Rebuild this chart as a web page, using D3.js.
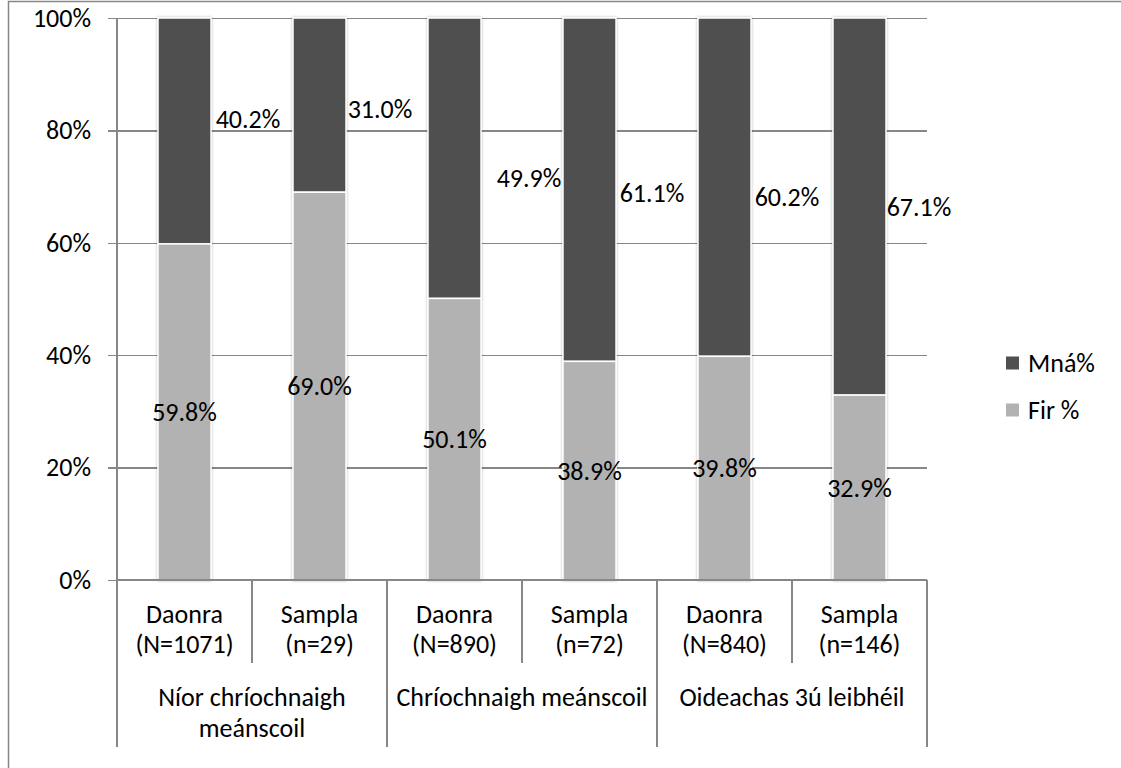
<!DOCTYPE html>
<html>
<head>
<meta charset="utf-8">
<script src="https://cdn.jsdelivr.net/npm/d3@7"></script>
<style>
  html, body { margin: 0; padding: 0; background: #fff; }
  svg text { font-family: Carlito, Calibri, Lato, "Open Sans", sans-serif; fill: #000; }
</style>
</head>
<body>
<svg id="chart" width="1121" height="768"></svg>
<script>
// ---- data ----
const bars = ["d1", "s1", "d2", "s2", "d3", "s3"];
const barLine1 = ["Daonra", "Sampla", "Daonra", "Sampla", "Daonra", "Sampla"];
const barLine2 = ["(N=1071)", "(n=29)", "(N=890)", "(n=72)", "(N=840)", "(n=146)"];
const groups = [["Níor chríochnaigh", "meánscoil"], ["Chríochnaigh meánscoil"], ["Oideachas 3ú leibhéil"]];
const firValues = [59.8, 69.0, 50.1, 38.9, 39.8, 32.9];
const mnaValues = [40.2, 31.0, 49.9, 61.1, 60.2, 67.1];
const seriesNames = ["Mná%", "Fir %"];
const yTicks = [0, 20, 40, 60, 80, 100];
// manual nudges of the Mná% data labels (as dragged in the original)
const mnaLabelDx = [-4, -7, 7, -5, -5, -8];
const mnaLabelDy = [-12, 4, 20, 3, 10, 0];

// ---- layout ----
const svg = d3.select("#chart");
const pLeft = 117, pRight = 927, pTop = 18, pBottom = 580;
const FONT = 26;
const cDark = "#505050", cLight = "#b2b2b2", cGrid = "#878787";

const x = d3.scaleBand().domain(bars).range([pLeft, pRight]).paddingInner(0.607).paddingOuter(0.3035);
const y = d3.scaleLinear().domain([0, 100]).range([pBottom, pTop]);
const step = x.step();

// outer border
svg.append("rect").attr("x", 8.5).attr("y", 1.5).attr("width", 1200).attr("height", 900)
  .attr("fill", "none").attr("stroke", cGrid).attr("stroke-width", 1.5);

// shadow filter
const defs = svg.append("defs");
const f = defs.append("filter").attr("id", "glow").attr("x", "-20%").attr("y", "-5%").attr("width", "140%").attr("height", "110%");
f.append("feGaussianBlur").attr("in", "SourceAlpha").attr("stdDeviation", 1.6).attr("result", "b");
f.append("feComponentTransfer").attr("in", "b").attr("result", "b2")
  .append("feFuncA").attr("type", "linear").attr("slope", 0.28);
const fm = f.append("feMerge");
fm.append("feMergeNode").attr("in", "b2");
fm.append("feMergeNode").attr("in", "SourceGraphic");

// gridlines + y-axis
const yAxis = d3.axisLeft(y).tickValues(yTicks).tickSize(pRight - pLeft + 9).tickPadding(17)
  .tickFormat(d => d + "%");
const gy = svg.append("g").attr("transform", `translate(${pRight},0)`).call(yAxis);
gy.select(".domain").remove();
gy.selectAll(".tick line").attr("stroke", cGrid).attr("stroke-width", 1.3).attr("shape-rendering", "crispEdges");
gy.selectAll(".tick text").attr("font-size", FONT).attr("fill", "#000")
  .style("font-family", "Carlito, Calibri, Lato, sans-serif");
svg.append("line").attr("x1", pLeft).attr("x2", pLeft).attr("y1", pTop).attr("y2", pBottom)
  .attr("stroke", cGrid).attr("stroke-width", 1.3).attr("shape-rendering", "crispEdges");

// bars
const gb = svg.append("g");
bars.forEach((b, i) => {
  const g = gb.append("g").attr("filter", "url(#glow)");
  g.append("rect").attr("x", x(b)).attr("width", x.bandwidth())
    .attr("y", y(100)).attr("height", y(firValues[i]) - y(100))
    .attr("fill", cDark).attr("stroke", "#fff").attr("stroke-width", 1.5);
  g.append("rect").attr("x", x(b)).attr("width", x.bandwidth())
    .attr("y", y(firValues[i])).attr("height", y(0) - y(firValues[i]))
    .attr("fill", cLight).attr("stroke", "#fff").attr("stroke-width", 1.5);
});

// data labels
bars.forEach((b, i) => {
  const cx = x(b) + x.bandwidth() / 2;
  svg.append("text").attr("x", cx).attr("y", (y(0) + y(firValues[i])) / 2)
    .attr("text-anchor", "middle").attr("dy", "0.35em").attr("font-size", FONT)
    .text(firValues[i].toFixed(1) + "%");
  const bandEnd = x(b) - x.step() * x.paddingOuter() + x.step();
  svg.append("text").attr("x", bandEnd + mnaLabelDx[i])
    .attr("y", (y(100) + y(firValues[i])) / 2 + mnaLabelDy[i])
    .attr("text-anchor", "middle").attr("dy", "0.35em").attr("font-size", FONT)
    .text(mnaValues[i].toFixed(1) + "%");
});

// x-axis (two-level)
const ga = svg.append("g");
ga.append("line").attr("x1", pLeft).attr("x2", pRight).attr("y1", pBottom).attr("y2", pBottom)
  .attr("stroke", cGrid).attr("stroke-width", 1.3).attr("shape-rendering", "crispEdges");
for (let k = 0; k <= bars.length; k++) {
  const xx = pLeft + k * step;
  const isGroup = k % 2 === 0;
  ga.append("line").attr("x1", xx).attr("x2", xx).attr("y1", pBottom).attr("y2", isGroup ? 747 : 663)
    .attr("stroke", cGrid).attr("stroke-width", 1.3).attr("shape-rendering", "crispEdges");
}
bars.forEach((b, i) => {
  const cx = x(b) + x.bandwidth() / 2;
  ga.append("text").attr("x", cx).attr("y", 623).attr("text-anchor", "middle").attr("font-size", FONT).text(barLine1[i]);
  ga.append("text").attr("x", cx).attr("y", 653).attr("text-anchor", "middle").attr("font-size", FONT).text(barLine2[i]);
});
groups.forEach((lines, gi) => {
  const cx = pLeft + (gi * 2 + 1) * step;
  lines.forEach((t, li) => {
    ga.append("text").attr("x", cx).attr("y", 706 + li * 31).attr("text-anchor", "middle").attr("font-size", FONT).text(t);
  });
});

// legend
const legendColors = [cDark, cLight];
seriesNames.forEach((n, i) => {
  const ly = 363 + i * 47;
  svg.append("rect").attr("x", 1006).attr("y", ly - 6.5).attr("width", 13).attr("height", 13).attr("fill", legendColors[i]);
  svg.append("text").attr("x", 1028).attr("y", ly).attr("dy", "0.35em").attr("font-size", FONT).text(n);
});
</script>
</body>
</html>
